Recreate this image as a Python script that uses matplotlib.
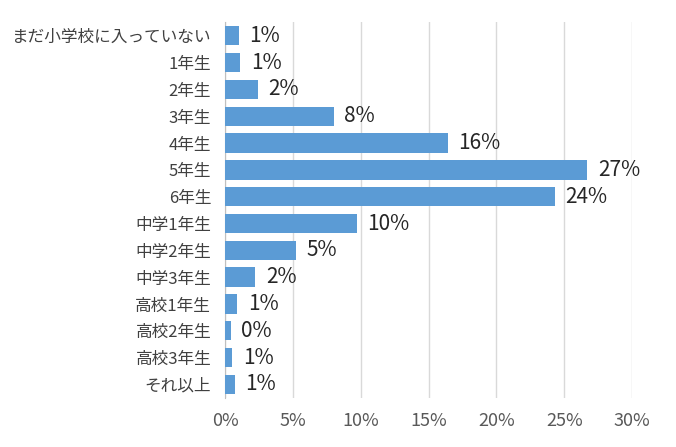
import matplotlib.pyplot as plt
import numpy as np

plt.rcParams["font.family"] = "Noto Sans CJK JP"

categories = ["まだ小学校に入っていない", "1年生", "2年生", "3年生", "4年生", "5年生", "6年生",
              "中学1年生", "中学2年生", "中学3年生", "高校1年生", "高校2年生", "高校3年生", "それ以上"]
values = [1.0, 1.1, 2.4, 8.0, 16.4, 26.7, 24.3, 9.7, 5.2, 2.2, 0.9, 0.4, 0.5, 0.7]
labels = ["1%", "1%", "2%", "8%", "16%", "27%", "24%", "10%", "5%", "2%", "1%", "0%", "1%", "1%"]
xticks = [0, 5, 10, 15, 20, 25, 30]

fig = plt.figure(figsize=(6.76, 4.47), dpi=100)
ax = fig.add_axes([0.333, 0.11, 0.602, 0.84])

y = np.arange(len(categories))
ax.barh(y, values, height=0.72, color="#5B9BD5", zorder=3)
for yi, v, lab in zip(y, values, labels):
    ax.text(v + 0.8, yi, lab, va="center", ha="left", fontsize=15, color="#262626")

ax.set_yticks(y)
ax.set_yticklabels(categories, fontsize=12, color="#404040")
ax.set_ylim(len(categories) - 0.5, -0.5)
ax.set_xlim(0, 30)
ax.set_xticks(xticks)
ax.set_xticklabels([f"{t}%" for t in xticks], fontsize=13, color="#595959")
ax.grid(axis="x", color="#D9D9D9", linewidth=1, zorder=0)
for s in ["top", "right", "bottom"]:
    ax.spines[s].set_visible(False)
ax.spines["left"].set_color("#BFBFBF")
ax.tick_params(axis="y", length=0, pad=10)
ax.tick_params(axis="x", length=0, pad=10)

fig.savefig("out.png", dpi=100)
